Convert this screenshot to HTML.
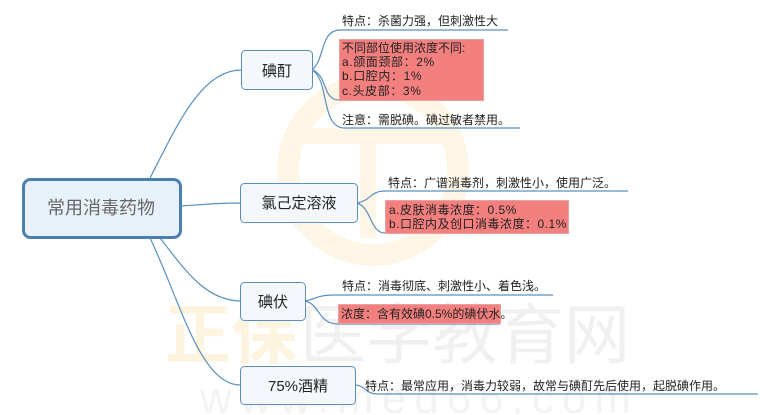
<!DOCTYPE html>
<html><head><meta charset="utf-8"><style>
html,body{margin:0;padding:0;background:#fff;width:760px;height:415px;overflow:hidden;}
svg{display:block;}
text{font-family:"Liberation Sans","Noto Sans CJK SC",sans-serif;}
</style></head><body>
<svg width="760" height="415" viewBox="0 0 760 415" xmlns="http://www.w3.org/2000/svg" overflow="hidden">
<circle cx="373" cy="170" r="85" fill="none" stroke="#fdf6e6" stroke-width="22"/>
<rect x="300" y="128" width="150" height="16" fill="#fdf6e6"/>
<rect x="360" y="128" width="16" height="110" fill="#fdf6e6"/>
<text x="165" y="358" font-size="66" fill="#fdf4e0" font-weight="bold">正保</text>
<text x="300" y="358" font-size="66" fill="#f0f0f0">医学教育网</text>
<text x="200" y="413" font-size="44" fill="#f3f3f3" letter-spacing="8">www.med66.com</text>

<g fill="none" stroke="#5a8fbf" stroke-width="1.2">
<path d="M150 178 C175 130,200 70,241 70"/>
<path d="M181 206 C210 204,220 203,240 203"/>
<path d="M160 238 C185 270,205 300,240 301"/>
<path d="M150 238 C180 300,200 385,240 385"/>
<path d="M312 70 C325 60,320 30,340 30 L508 30"/>
<path d="M312 70 C328 75,322 100,339 100"/>
<path d="M312 70 C330 80,320 128,345 128 L520 128"/>
<path d="M357 203 C372 200,370 191,385 191 L628 191"/>
<path d="M357 203 C372 208,370 233,385 233"/>
<path d="M305 301 C318 298,320 295,333 295 L553 295"/>
<path d="M305 301 C320 304,318 324,338 324 L500 324"/>
<path d="M355 385 C365 385,365 394,378 394 L758 394"/>
</g>

<rect x="23.5" y="179.5" width="157" height="58" rx="7" fill="#e8f0fa" stroke="#4a7fae" stroke-width="3"/>
<text x="101" y="214" font-size="18" fill="#666" text-anchor="middle">常用消毒药物</text>

<g fill="#f4f8fc" stroke="#5a8fbf" stroke-width="1">
<rect x="241.5" y="50.5" width="71" height="39" rx="4"/>
<rect x="240.5" y="183.5" width="117" height="39" rx="4"/>
<rect x="240.5" y="282.5" width="65" height="38" rx="4"/>
<rect x="240.5" y="366.5" width="115" height="38" rx="4"/>
</g>
<g font-size="15" fill="#222" text-anchor="middle">
<text x="277" y="76">碘酊</text>
<text x="299" y="208">氯己定溶液</text>
<text x="273" y="307">碘伏</text>
<text x="298" y="391">75%酒精</text>
</g>

<g fill="#f47f7f" stroke="#e9a0a0" stroke-width="1">
<rect x="339.5" y="39.5" width="144" height="61"/>
<rect x="385.5" y="200.5" width="183" height="33"/>
<rect x="338.5" y="304.5" width="162" height="19"/>
</g>

<g font-size="12" fill="#222">
<text x="342" y="25">特点：杀菌力强，但刺激性大</text>
<text x="342" y="52">不同部位使用浓度不同:</text>
<text x="342" y="66" letter-spacing="0.6">a.颌面颈部：2%</text>
<text x="342" y="80" letter-spacing="0.6">b.口腔内：1%</text>
<text x="342" y="95" letter-spacing="0.6">c.头皮部：3%</text>
<text x="342" y="124">注意：需脱碘。碘过敏者禁用。</text>
<text x="388" y="187">特点：广谱消毒剂，刺激性小，使用广泛。</text>
<text x="389" y="214" letter-spacing="0.5">a.皮肤消毒浓度：0.5%</text>
<text x="389" y="228" letter-spacing="0.5">b.口腔内及创口消毒浓度：0.1%</text>
<text x="342" y="290">特点：消毒彻底、刺激性小、着色浅。</text>
<text x="341" y="318">浓度：含有效碘0.5%的碘伏水。</text>
<text x="365" y="390">特点：最常应用，消毒力较弱，故常与碘酊先后使用，起脱碘作用。</text>
</g>
</svg>
</body></html>
